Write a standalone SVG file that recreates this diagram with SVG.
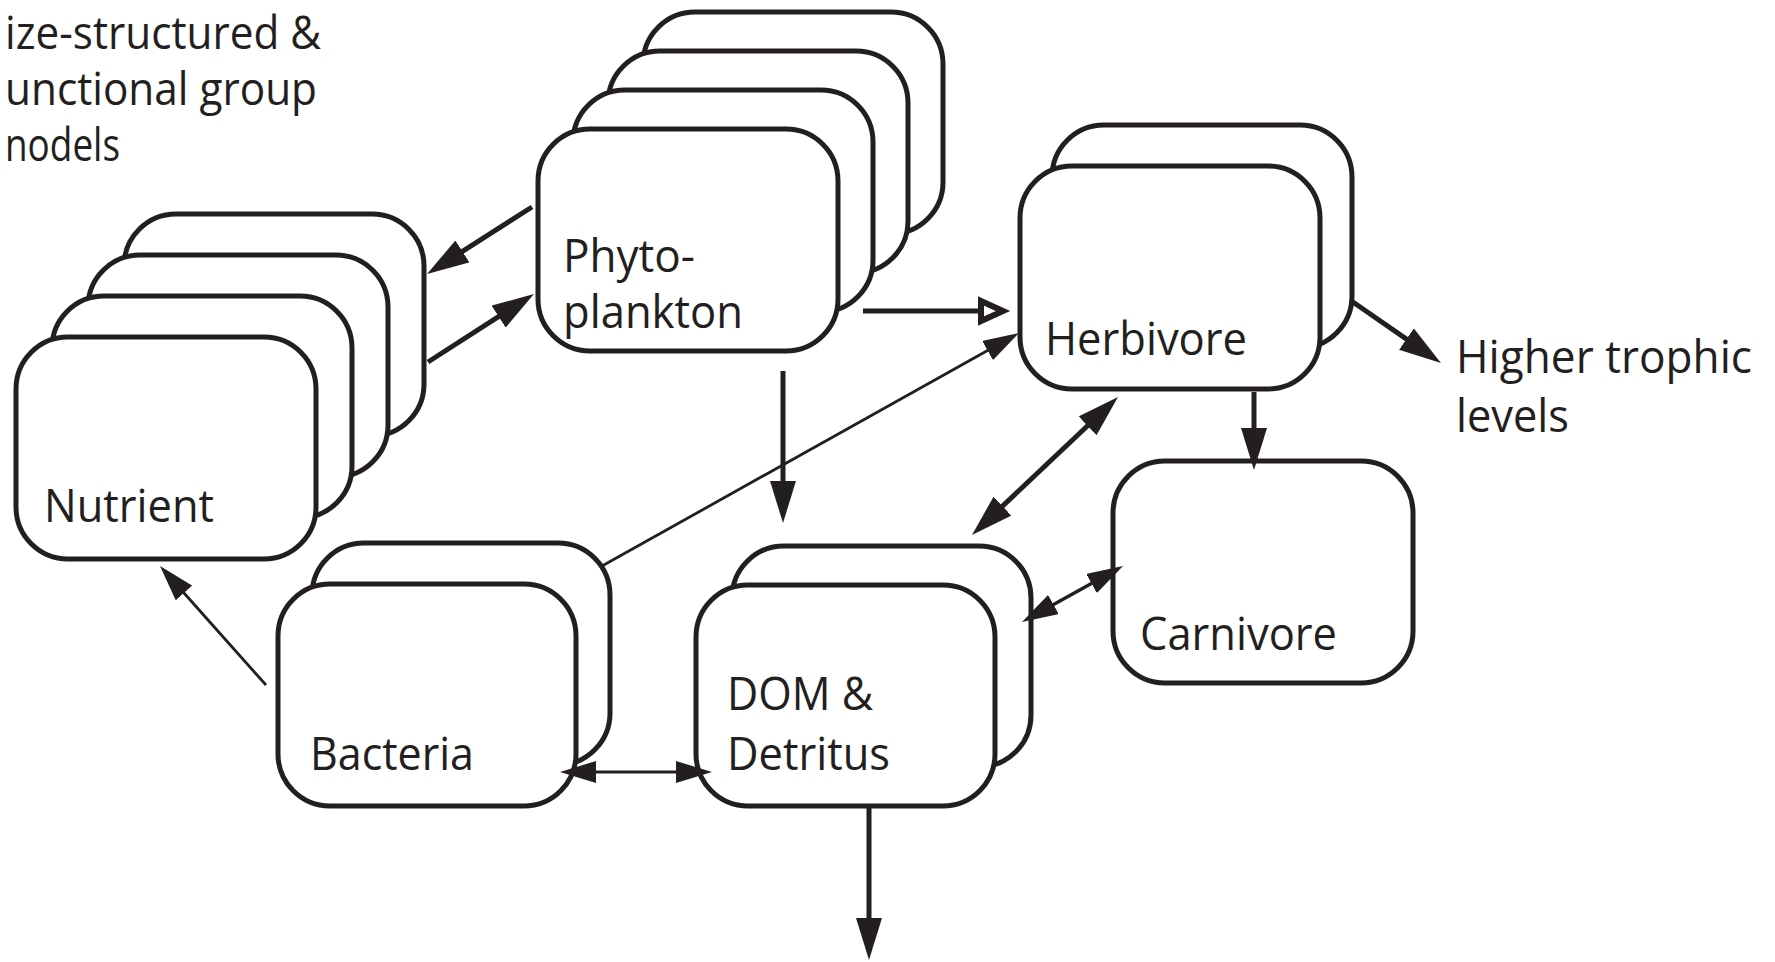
<svg xmlns="http://www.w3.org/2000/svg" width="1775" height="962" viewBox="0 0 1775 962">
<style>
.box{fill:#fff;stroke:#231f20;stroke-width:5}
.lbl{font-family:"Open Sans","Noto Sans",sans-serif;font-size:45px;fill:#231f20}
.thick{stroke:#231f20;stroke-width:5;fill:none}
.thin{stroke:#231f20;stroke-width:2.8;fill:none}
.mid{stroke:#231f20;stroke-width:3.4;fill:none}
</style>
<defs>
<marker id="headL" markerUnits="userSpaceOnUse" viewBox="0 0 42 26" markerWidth="42" markerHeight="26" refX="26" refY="13" orient="auto-start-reverse"><path d="M0,0 L42,13 L0,26 Z" fill="#231f20"/></marker>
<marker id="headS" markerUnits="userSpaceOnUse" viewBox="0 0 36 22" markerWidth="36" markerHeight="22" refX="22" refY="11" orient="auto-start-reverse"><path d="M0,0 L36,11 L0,22 Z" fill="#231f20"/></marker>
<marker id="headOpen" markerUnits="userSpaceOnUse" viewBox="0 0 40 32" markerWidth="40" markerHeight="32" refX="3" refY="16" orient="auto" overflow="visible"><path d="M6,6 L28,16 L6,26 Z" fill="#fff" stroke="#231f20" stroke-width="6"/></marker>
</defs>
<rect width="1775" height="962" fill="#fff"/>

<g id="title">
<text class="lbl" x="5" y="49" textLength="316" lengthAdjust="spacingAndGlyphs">ize-structured &amp;</text>
<text class="lbl" x="5" y="105" textLength="312" lengthAdjust="spacingAndGlyphs">unctional group</text>
<text class="lbl" x="5" y="161" textLength="115" lengthAdjust="spacingAndGlyphs">nodels</text>
</g>

<g id="nutrient">
<rect class="box" x="124" y="214" width="300" height="222" rx="52"/>
<rect class="box" x="88" y="255" width="300" height="222" rx="52"/>
<rect class="box" x="52" y="296" width="300" height="222" rx="52"/>
<rect class="box" x="16" y="337" width="300" height="222" rx="52"/>
<text class="lbl" x="44" y="522" textLength="170" lengthAdjust="spacingAndGlyphs">Nutrient</text>
</g>

<g id="phytoplankton">
<rect class="box" x="643" y="12" width="300" height="222" rx="52"/>
<rect class="box" x="608" y="51" width="300" height="222" rx="52"/>
<rect class="box" x="573" y="90" width="300" height="222" rx="52"/>
<rect class="box" x="538" y="129" width="300" height="222" rx="52"/>
<text class="lbl" x="563" y="272" textLength="132" lengthAdjust="spacingAndGlyphs">Phyto-</text>
<text class="lbl" x="563" y="328" textLength="180" lengthAdjust="spacingAndGlyphs">plankton</text>
</g>

<g id="herbivore">
<rect class="box" x="1052" y="125" width="300" height="223" rx="52"/>
<rect class="box" x="1020" y="166" width="300" height="223" rx="52"/>
<text class="lbl" x="1045" y="355" textLength="202" lengthAdjust="spacingAndGlyphs">Herbivore</text>
</g>

<g id="carnivore">
<rect class="box" x="1113" y="461" width="300" height="222" rx="52"/>
<text class="lbl" x="1140" y="650" textLength="197" lengthAdjust="spacingAndGlyphs">Carnivore</text>
</g>

<g id="bacteria">
<rect class="box" x="312" y="543" width="298" height="222" rx="52"/>
<rect class="box" x="278" y="584" width="298" height="222" rx="52"/>
<text class="lbl" x="310" y="770" textLength="164" lengthAdjust="spacingAndGlyphs">Bacteria</text>
</g>

<g id="dom-detritus">
<rect class="box" x="732" y="546" width="299" height="221" rx="52"/>
<rect class="box" x="696" y="585" width="299" height="221" rx="52"/>
<text class="lbl" x="727" y="710" textLength="146" lengthAdjust="spacingAndGlyphs">DOM &amp;</text>
<text class="lbl" x="727" y="770" textLength="163" lengthAdjust="spacingAndGlyphs">Detritus</text>
</g>

<g id="higher-trophic">
<text class="lbl" x="1456" y="373" textLength="296" lengthAdjust="spacingAndGlyphs">Higher trophic</text>
<text class="lbl" x="1456" y="432" textLength="113" lengthAdjust="spacingAndGlyphs">levels</text>
</g>

<g id="connectors">
<path class="thick" d="M532,207 L440.5,265.4" marker-end="url(#headL)"/>
<path class="thick" d="M428,362 L520.5,302.6" marker-end="url(#headL)"/>
<path class="thick" d="M863,311 L978,311" marker-end="url(#headOpen)"/>
<path class="thin" d="M602,566 L1006.8,339.8" marker-end="url(#headS)"/>
<path class="thick" d="M783,371 L783,507" marker-end="url(#headL)"/>
<path class="thick" d="M983.6,524 L1106.4,408" marker-start="url(#headL)" marker-end="url(#headL)"/>
<path class="thick" d="M1254,392 L1254,454" marker-end="url(#headL)"/>
<path class="thick" d="M1350,300 L1427.8,353.9" marker-end="url(#headL)"/>
<path class="mid" d="M1034.2,615.2 L1110.8,572.8" marker-start="url(#headS)" marker-end="url(#headS)"/>
<path class="thin" d="M266,685 L169.3,576.5" marker-end="url(#headS)"/>
<path class="thin" d="M574,772 L698,772" marker-start="url(#headS)" marker-end="url(#headS)"/>
<path class="thick" d="M869,807 L869,944" marker-end="url(#headL)"/>
</g>
</svg>
